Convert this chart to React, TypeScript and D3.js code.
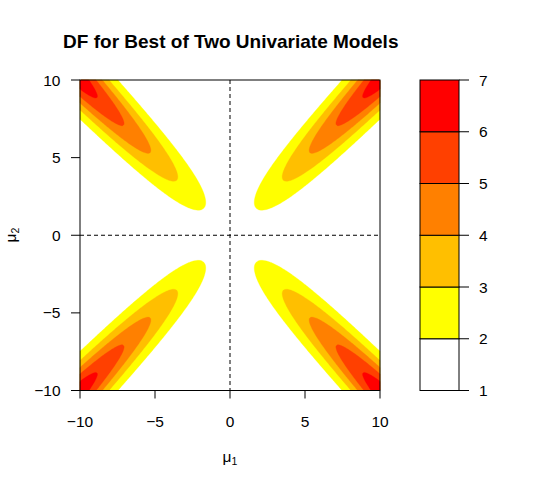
import React from "react";
import * as d3 from "d3";

// Axis / legend definitions
const xTicks = [-10, -5, 0, 5, 10];
const yTicks = [-10, -5, 0, 5, 10];
const levels = [1, 2, 3, 4, 5, 6, 7];
const levelColors = ["#FFFFFF", "#FFFF00", "#FFBF00", "#FF8000", "#FF4000", "#FF0000"];
const muRange = [-10, 10];
const gridN = 200;
const titleText = "DF for Best of Two Univariate Models";

// DF of selecting the better of two univariate models, y ~ N(mu, I_2)
function erf(x: number) {
  const s = x < 0 ? -1 : 1;
  x = Math.abs(x);
  const t = 1 / (1 + 0.3275911 * x);
  const y = 1 - ((((1.061405429 * t - 1.453152027) * t + 1.421413741) * t - 0.284496736) * t + 0.254829592) * t * Math.exp(-x * x);
  return s * y;
}
const phi = (x: number) => Math.exp(-x * x / 2) / Math.sqrt(2 * Math.PI);
const Phi = (x: number) => 0.5 * (1 + erf(x / Math.SQRT2));
function pairTerm(a: number, b: number) {
  const c = phi((a - b) / Math.SQRT2) / Math.SQRT2;
  const m = (a + b) / 2;
  const s = 1 / Math.SQRT2;
  const eAbs = m * (1 - 2 * Phi(-m / s)) + 2 * s * phi(m / s);
  return 2 * c * eAbs;
}
const dfValue = (m1: number, m2: number) => 1 + pairTerm(m1, m2) + pairTerm(-m1, m2);

export default function App() {
  const W = 540, H = 491;
  const left = 80, right = 380, top = 80, bottom = 390.5;
  const x = d3.scaleLinear().domain(muRange).range([left, right]);
  const y = d3.scaleLinear().domain(muRange).range([bottom, top]);

  const span = muRange[1] - muRange[0];
  const values: number[] = new Array(gridN * gridN);
  for (let j = 0; j < gridN; j++) {
    const m2 = muRange[0] + (j + 0.5) * span / gridN;
    for (let i = 0; i < gridN; i++) {
      const m1 = muRange[0] + (i + 0.5) * span / gridN;
      values[j * gridN + i] = dfValue(m1, m2);
    }
  }
  const contours = d3.contours().size([gridN, gridN]).thresholds(levels.slice(1, -1))(values);
  const transform = d3.geoTransform({
    point(px: number, py: number) {
      (this as any).stream.point(x(muRange[0] + px * span / gridN), y(muRange[0] + py * span / gridN));
    },
  });
  const path = d3.geoPath(transform as any);

  const legL = 420, legR = 459;
  const ly = d3.scaleLinear().domain([levels[0], levels[levels.length - 1]]).range([bottom, top]);
  const font = "Liberation Sans, Arial, Helvetica, sans-serif";
  const fs = 15.5;

  return (
    <svg width={W} height={H} style={{ position: "absolute", left: 0, top: 0, background: "#fff" }} fontFamily={font}>
      <rect x={left} y={top} width={right - left} height={bottom - top} fill={levelColors[0]} />
      {contours.map((c, k) => (
        <path key={k} d={path(c as any) || ""} fill={levelColors[k + 1]} stroke={levelColors[k + 1]} strokeWidth={0.3} />
      ))}
      <line x1={x(0)} x2={x(0)} y1={top} y2={bottom} stroke="#000" strokeDasharray="4,3" strokeWidth={1} />
      <line x1={left} x2={right} y1={y(0)} y2={y(0)} stroke="#000" strokeDasharray="4,3" strokeWidth={1} />
      <rect x={left} y={top} width={right - left} height={bottom - top} fill="none" stroke="#000" strokeWidth={1} />

      {xTicks.map((t) => (
        <g key={"x" + t}>
          <line x1={x(t)} x2={x(t)} y1={bottom} y2={bottom + 8} stroke="#000" />
          <text x={x(t)} y={427} textAnchor="middle" fontSize={fs}>{t < 0 ? "\u2212" + Math.abs(t) : t}</text>
        </g>
      ))}
      {yTicks.map((t) => (
        <g key={"y" + t}>
          <line x1={left - 9} x2={left} y1={y(t)} y2={y(t)} stroke="#000" />
          <text x={60.5} y={y(t)} dy="0.36em" textAnchor="end" fontSize={fs}>{t < 0 ? "\u2212" + Math.abs(t) : t}</text>
        </g>
      ))}

      <text x={230} y={462} textAnchor="middle" fontSize={fs}>
        μ<tspan fontSize={10.5} dy={3}>1</tspan>
      </text>
      <text transform={`translate(16,235) rotate(-90)`} textAnchor="middle" fontSize={fs}>
        μ<tspan fontSize={10.5} dy={3}>2</tspan>
      </text>
      <text x={230.8} y={48} textAnchor="middle" fontSize={19} fontWeight="bold">{titleText}</text>

      {levelColors.map((col, k) => (
        <rect key={"l" + k} x={legL} y={ly(levels[k + 1])} width={legR - legL} height={ly(levels[k]) - ly(levels[k + 1])} fill={col} stroke="#000" strokeWidth={1} />
      ))}
      {levels.map((lv) => (
        <g key={"lt" + lv}>
          <line x1={legR} x2={legR + 10} y1={ly(lv)} y2={ly(lv)} stroke="#000" />
          <text x={479} y={ly(lv)} dy="0.36em" fontSize={fs}>{lv}</text>
        </g>
      ))}
    </svg>
  );
}
